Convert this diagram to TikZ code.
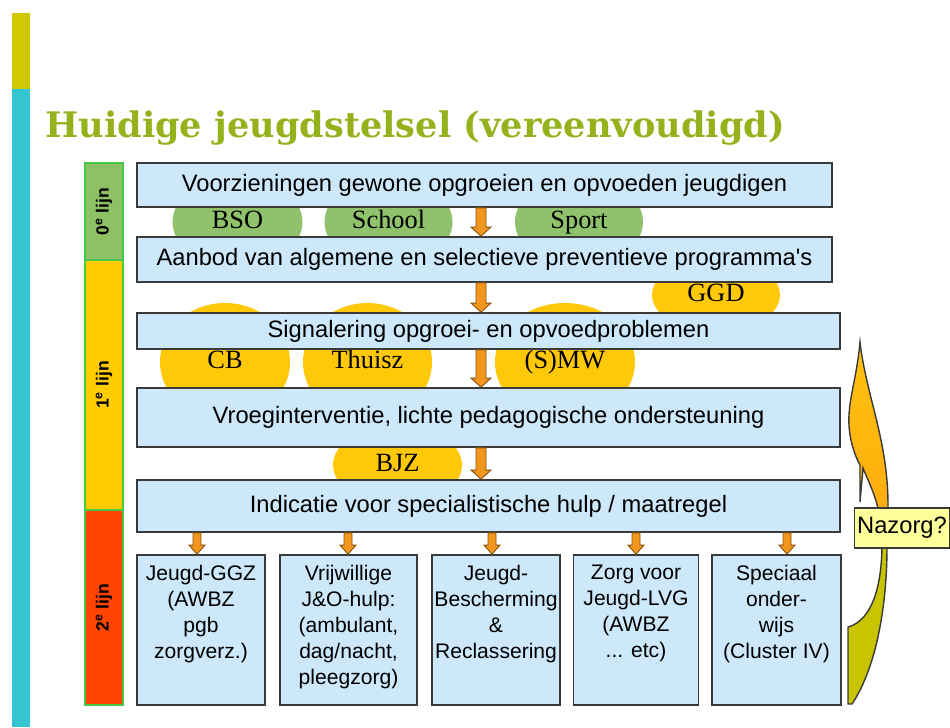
\documentclass[tikz,border=0pt]{standalone}
\usepackage{fontspec}
\setmainfont{Liberation Sans}
\newfontfamily\ovalfont{Liberation Serif}
\newfontfamily\titlefont{DejaVu Serif}
\usetikzlibrary{shapes.geometric, calc}

\definecolor{boxblue}{HTML}{CCE8FA}
\definecolor{boxline}{HTML}{3A3A3A}
\definecolor{ovalgreen}{HTML}{8FC26A}
\definecolor{ovalyellow}{HTML}{FFC90A}
\definecolor{titlegreen}{HTML}{95B11C}
\definecolor{barolive}{HTML}{D2C800}
\definecolor{barcyan}{HTML}{33C6D0}
\definecolor{lijnnul}{HTML}{8DC163}
\definecolor{lijneen}{HTML}{FFCC00}
\definecolor{lijntwee}{HTML}{FF4300}
\definecolor{lijnrand}{HTML}{46C846}
\definecolor{pijloranje}{HTML}{F2961E}
\definecolor{nazorggeel}{HTML}{FFFF9C}
\definecolor{bochtolijf}{HTML}{C9C400}
\definecolor{bochttop}{HTML}{FFC20E}
\definecolor{bochtonder}{HTML}{FF950C}

\newcommand{\px}{0.02cm}
% block arrow from #2 down to #3, #1 = half width of the shaft
\newcommand{\blkarrow}[3][5]{%
  \draw[blokpijl] ($(#2)+(-#1,0)$) -- ($(#2)+(#1,0)$) -- ($(#3)+(#1,-9)$)
    -- ($(#3)+(2*#1,-9)$) -- (#3) -- ($(#3)+(-2*#1,-9)$) -- ($(#3)+(-#1,-9)$) -- cycle;}
% outline of the curved nazorg arrow
\newcommand{\pijlvorm}{(860,342) .. controls (866,395) and (888,440) .. (888,505)
  -- (887,547) .. controls (887,600) and (878,665) .. (852,704) -- (848,704) -- (848,627)
  .. controls (866,622) and (881,600) .. (882,547) -- (878,508)
  .. controls (874,492) and (867,478) .. (863,468) -- (860,502) -- (860,465)
  .. controls (852,450) and (848,432) .. (849,415) .. controls (850,395) and (857,375) .. (860,342) -- cycle}

\begin{document}
\begin{tikzpicture}[x=\px, y=-\px,
    stap/.style={draw=boxline, fill=boxblue, line width=1pt, inner sep=0pt, font=\fontsize{13.5}{16}\selectfont},
    hulp/.style={stap, font=\fontsize{12}{14.8}\selectfont, minimum height=150*\px},
    oval/.style={ellipse, inner sep=0pt, text height=10pt, text depth=2.5pt, font=\ovalfont\fontsize{15}{17}\selectfont},
    lijn/.style={draw=lijnrand, line width=1pt, rotate=90, minimum height=38*\px, inner sep=0pt, font=\bfseries\fontsize{10}{12}\selectfont},
    blokpijl/.style={fill=pijloranje, draw=pijloranje!55!black, line width=0.5pt}]
    \newcommand{\hulptekst}[1]{\parbox[c][3cm][t]{2.5cm}{\centering\vspace*{0.2cm}#1}}
    \useasboundingbox (0,0) rectangle (950,727);

    % Stripe at the left edge
    \fill[barolive] (12,13) rectangle (30,89);
    \fill[barcyan] (12,89) rectangle (30,727);

    % Title
    \node[anchor=base west, inner sep=0pt, text=titlegreen, font=\titlefont\bfseries\fontsize{20}{24}\selectfont] (titel) at (45,137) {Huidige jeugdstelsel (vereenvoudigd)};

    % The lines (lijnen)
    \node[lijn, fill=lijnnul, minimum width=97*\px] (nul) at (104,211.5) {0\textsuperscript{e} lijn};
    \node[lijn, fill=lijneen, minimum width=250*\px] (een) at (104,385) {1\textsuperscript{e} lijn};
    \node[lijn, fill=lijntwee, minimum width=195*\px] (twee) at (104,607.5) {2\textsuperscript{e} lijn};

    % Ovals, partly hidden behind the boxes
    \node[oval, fill=ovalgreen, minimum width=130*\px, minimum height=90*\px] (bso) at (237.5,222) {BSO};
    \node[oval, fill=ovalgreen, minimum width=128*\px, minimum height=90*\px] (school) at (388.5,222) {School};
    \node[oval, fill=ovalgreen, minimum width=128*\px, minimum height=90*\px] (sport) at (579,222) {Sport};
    \node[oval, fill=ovalyellow, minimum width=128*\px, minimum height=74*\px] (ggd) at (716,295) {GGD};
    \node[oval, fill=ovalyellow, minimum width=130*\px, minimum height=118*\px] (cb) at (225,362) {CB};
    \node[oval, fill=ovalyellow, minimum width=129*\px, minimum height=118*\px] (thuisz) at (367.5,362) {Thuisz};
    \node[oval, fill=ovalyellow, minimum width=140*\px, minimum height=118*\px] (smw) at (565,362) {(S)MW};
    \node[oval, fill=ovalyellow, minimum width=129*\px, minimum height=80*\px] (bjz) at (397.5,465) {BJZ};

    % Main boxes
    \node[stap, minimum width=695*\px, minimum height=44*\px] (b1) at (484.5,185) {Voorzieningen gewone opgroeien en opvoeden jeugdigen};
    \node[stap, minimum width=695*\px, minimum height=45*\px] (b2) at (484.5,259.5) {Aanbod van algemene en selectieve preventieve programma\textquotesingle s};
    \node[stap, minimum width=703*\px, minimum height=36*\px] (b3) at (488.5,331) {Signalering opgroei- en opvoedproblemen};
    \node[stap, minimum width=703*\px, minimum height=59*\px] (b4) at (488.5,417.5) {Vroeginterventie, lichte pedagogische ondersteuning};
    \node[stap, minimum width=703*\px, minimum height=52*\px] (b5) at (488.5,506) {Indicatie voor specialistische hulp / maatregel};

    % Second line care
    \node[hulp, minimum width=128*\px] (bA) at (201,630) {\hulptekst{Jeugd-GGZ\\(AWBZ\\pgb\\zorgverz.)}};
    \node[hulp, minimum width=137*\px] (bB) at (348.5,630) {\hulptekst{Vrijwillige\\J\&O-hulp:\\(ambulant,\\dag/nacht,\\pleegzorg)}};
    \node[hulp, minimum width=128*\px] (bC) at (496,630) {\hulptekst{Jeugd-\\Bescherming\\\&\\Reclassering}};
    \node[hulp, minimum width=122*\px] (bD) at (636,630) {\hulptekst{Zorg voor\\Jeugd-LVG\\(AWBZ\\... etc)}};
    \node[hulp, minimum width=129*\px] (bE) at (776.5,630) {\hulptekst{Speciaal\\onder-\\wijs\\(Cluster IV)}};

    % Arrows
    \coordinate (ax) at (481,0);
    \foreach \van/\naar in {b1/b2, b2/b3, b3/b4, b4/b5} {\blkarrow{\van.south -| ax}{\naar.north -| ax}}
    \foreach \xa/\naar in {197/bA, 348/bB, 492/bC, 636/bD, 787/bE} {
        \coordinate (ax) at (\xa,0);
        \blkarrow[4]{b5.south -| ax}{\naar.north -| ax}
    }

    % Curved arrow back up
    \fill[bochtolijf] \pijlvorm;
    \begin{scope}
        \clip (840,330) rectangle (900,528);
        \shade[top color=bochttop, bottom color=bochtonder] \pijlvorm;
    \end{scope}
    \draw[boxline, line width=0.8pt] \pijlvorm;
    \node[draw=boxline, fill=nazorggeel, line width=0.8pt, inner sep=0pt, minimum width=95*\px, minimum height=40*\px, font=\fontsize{13.5}{16}\selectfont] (nazorg) at (902,528) {Nazorg?};
\end{tikzpicture}
\end{document}
